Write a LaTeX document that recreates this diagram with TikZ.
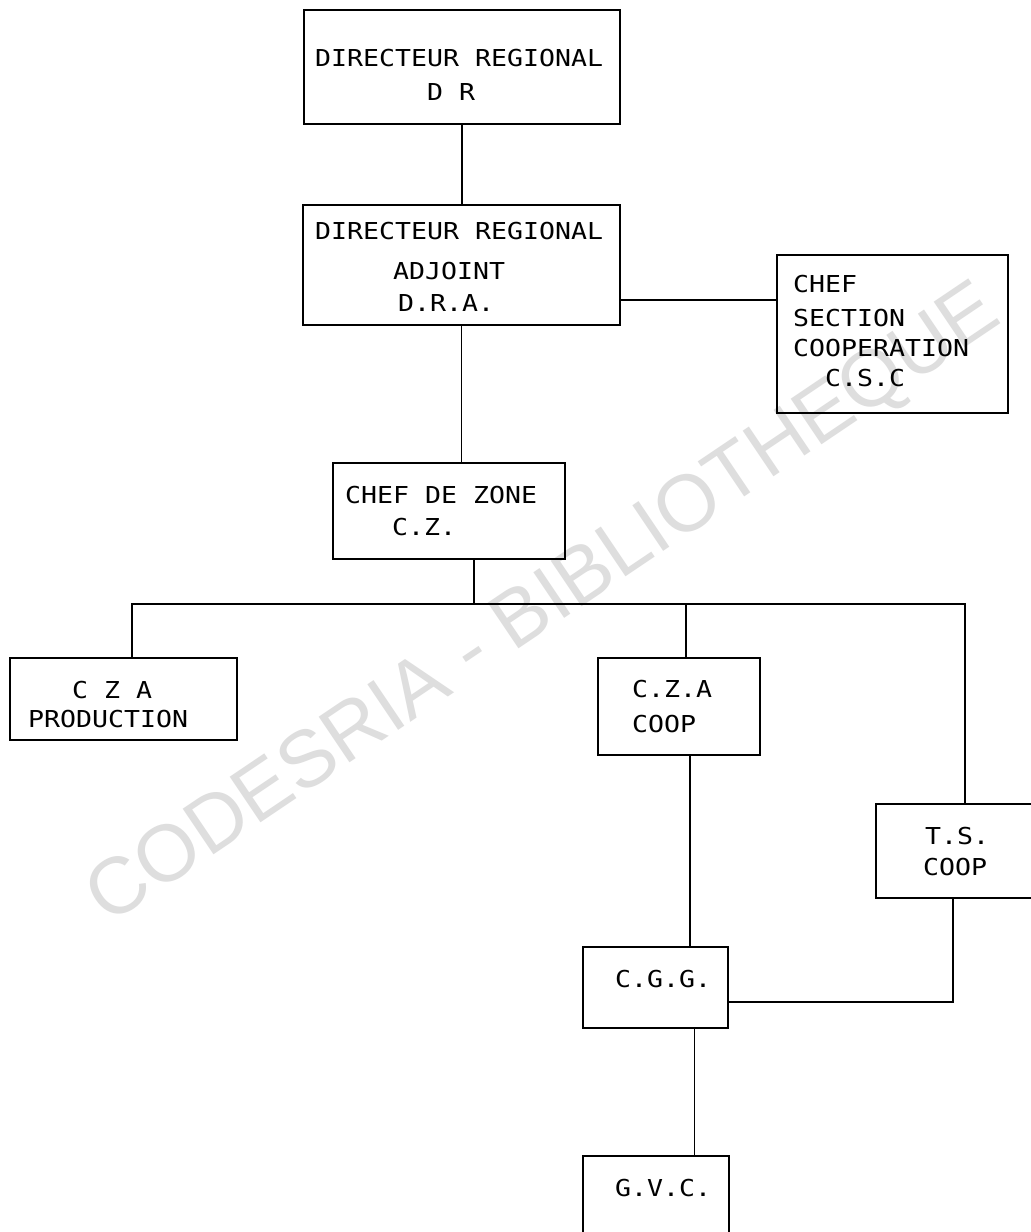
\documentclass[tikz,border=0pt]{standalone}
\usepackage{fontspec}
\newfontfamily\typew[FakeStretch=1.14]{DejaVu Sans Mono}
\newfontfamily\wmfont{Liberation Sans}
\begin{document}
\begin{tikzpicture}[x=1pt,y=-1pt,
  box/.style={draw, line width=1.5pt, anchor=north west, inner sep=0pt, outer sep=0pt},
  lbl/.style={font=\typew\fontsize{23.3}{26}\selectfont, anchor=base west, inner sep=0pt},
  link/.style={line width=1.5pt}]
\useasboundingbox (0,0) rectangle (1031,1232);
\fill[white] (0,0) rectangle (1031,1232);
\clip (0,0) rectangle (1031,1232);
% watermark
\node[rotate=34, text=black!13, font=\wmfont\fontsize{80}{80}\selectfont] (wm) at (545,607) {CODESRIA - BIBLIOTHEQUE};
% boxes
\node[box, minimum width=316pt, minimum height=114pt] (dr) at (304,10) {};
\node[box, minimum width=317pt, minimum height=120pt] (dra) at (303,205) {};
\node[box, minimum width=231pt, minimum height=158pt] (csc) at (777,255) {};
\node[box, minimum width=232pt, minimum height=96pt] (cz) at (333,463) {};
\node[box, minimum width=227pt, minimum height=82pt] (czap) at (10,658) {};
\node[box, minimum width=162pt, minimum height=97pt] (czac) at (598,658) {};
\node[box, minimum width=174pt, minimum height=94pt] (ts) at (876,804) {};
\node[box, minimum width=145pt, minimum height=81pt] (cgg) at (583,947) {};
\node[box, minimum width=146pt, minimum height=100pt] (gvc) at (583,1156) {};
% texts
\node[lbl] (dr1) at (315,66) {DIRECTEUR REGIONAL};
\node[lbl] (dr2) at (427,100) {D R};
\node[lbl] (dra1) at (315,239) {DIRECTEUR REGIONAL};
\node[lbl] (dra2) at (393,279) {ADJOINT};
\node[lbl] (dra3) at (398,311) {D.R.A.};
\node[lbl] (csc1) at (793,292) {CHEF};
\node[lbl] (csc2) at (793,326) {SECTION};
\node[lbl] (csc3) at (793,356) {COOPERATION};
\node[lbl] (csc4) at (825,386) {C.S.C};
\node[lbl] (cz1) at (345,503) {CHEF DE ZONE};
\node[lbl] (cz2) at (392,535) {C.Z.};
\node[lbl] (czap1) at (72,698) {C Z A};
\node[lbl] (czap2) at (28,727) {PRODUCTION};
\node[lbl] (czac1) at (632,697) {C.Z.A};
\node[lbl] (czac2) at (632,732) {COOP};
\node[lbl] (ts1) at (925,844) {T.S.};
\node[lbl] (ts2) at (923,875) {COOP};
\node[lbl] (cgg1) at (615,987) {C.G.G.};
\node[lbl] (gvc1) at (615,1196) {G.V.C.};
% connectors
\coordinate (busL) at (132,604);
\coordinate (busR) at (965,604);
\draw[link] (dr.south) -- (dr.south |- dra.north);
\draw[link] (dra.south) -- (dra.south |- cz.north);
\draw[link] ([yshift=-35pt]dra.east) -- ([yshift=-35pt]dra.east -| csc.west);
\draw[link] ([xshift=25pt]cz.south) -- ([xshift=25pt]cz.south |- busL);
\draw[link] ([xshift=8.5pt]czap.north) |- (busR) -- (busR |- ts.north);
\draw[link] ([xshift=7pt]czac.north) -- ([xshift=7pt]czac.north |- busL);
\draw[link] ([xshift=11pt]czac.south) -- ([xshift=11pt]czac.south |- cgg.north);
\draw[link] ([xshift=39pt]cgg.south) -- ([xshift=39pt]cgg.south |- gvc.north);
\draw[link] ([xshift=-10pt]ts.south) |- ([yshift=-14.5pt]cgg.east);
\end{tikzpicture}
\end{document}
